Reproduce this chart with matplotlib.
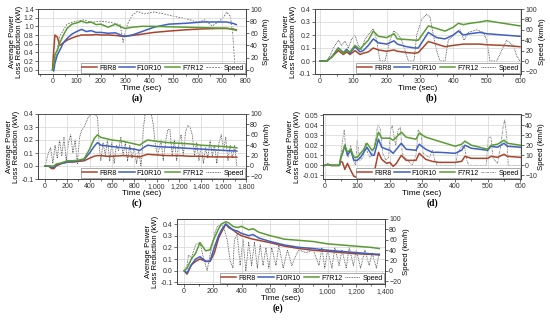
import matplotlib.pyplot as plt
from matplotlib.ticker import MultipleLocator, FuncFormatter, FormatStrFormatter

plt.rcParams['font.family'] = ['Liberation Sans', 'DejaVu Sans']

# ---- (a) ----
a_t = [0, 5, 10, 20, 30, 45, 60, 80, 100, 120, 140, 160, 180, 200, 230, 260, 290, 300,
       330, 370, 420, 480, 550, 620, 680, 720, 745, 760]
a_f8r8 = [0.0, 0.45, 0.80, 0.75, 0.56, 0.62, 0.68, 0.73, 0.77, 0.80, 0.80, 0.80, 0.81, 0.80,
          0.80, 0.79, 0.77, 0.77, 0.79, 0.82, 0.86, 0.89, 0.92, 0.94, 0.95, 0.95, 0.94, 0.92]
a_f10r10 = [0.0, -0.03, 0.15, 0.34, 0.45, 0.62, 0.72, 0.82, 0.88, 0.93, 0.88, 0.90, 0.86, 0.86,
            0.84, 0.85, 0.78, 0.77, 0.80, 0.88, 0.98, 1.05, 1.07, 1.10, 1.10, 1.10, 1.07, 1.04]
a_f7r12 = [0.0, 0.1, 0.35, 0.45, 0.62, 0.80, 0.95, 1.05, 1.08, 1.12, 1.08, 1.10, 1.04, 1.05,
           0.98, 1.05, 0.97, 0.95, 0.98, 1.00, 1.00, 0.99, 0.98, 0.97, 0.96, 0.96, 0.93, 0.91]
a_ts = [0, 10, 20, 30, 45, 60, 80, 100, 130, 160, 200, 240, 280, 292, 300, 310, 330, 350,
        380, 420, 460, 500, 540, 570, 600, 630, 660, 690, 710, 720, 735, 745, 755, 760]
a_speed = [0, 15, 35, 55, 65, 75, 78, 80, 82, 78, 80, 78, 74, 45, 60, 75, 90, 96,
           92, 95, 92, 88, 85, 82, 78, 82, 72, 80, 88, 95, 88, 60, 0, 0]

# ---- (b) ----
b_t = [0, 20, 35, 55, 70, 80, 90, 105, 120, 130, 145, 160, 175, 200, 222, 232, 260, 285,
       295, 325, 350, 375, 400, 415, 430, 450, 480, 500, 550, 600]
b_f8r8 = [0, 0, 0.03, 0.08, 0.05, 0.07, 0.05, 0.08, 0.05, 0.06, 0.07, 0.10, 0.085, 0.075,
          0.085, 0.075, 0.065, 0.06, 0.065, 0.15, 0.13, 0.11, 0.12, 0.125, 0.13, 0.13, 0.13,
          0.125, 0.12, 0.11]
b_f10r10 = [0, 0, 0.03, 0.10, 0.065, 0.09, 0.06, 0.11, 0.07, 0.08, 0.12, 0.17, 0.14, 0.13,
            0.155, 0.13, 0.11, 0.10, 0.10, 0.22, 0.18, 0.17, 0.20, 0.23, 0.20, 0.21, 0.22,
            0.21, 0.20, 0.19]
b_f7r12 = [0, 0, 0.03, 0.10, 0.06, 0.08, 0.07, 0.12, 0.09, 0.12, 0.16, 0.23, 0.19, 0.18,
           0.21, 0.17, 0.165, 0.16, 0.16, 0.27, 0.25, 0.23, 0.26, 0.29, 0.28, 0.29, 0.30,
           0.31, 0.29, 0.27]
b_ts = [0, 20, 30, 40, 55, 65, 75, 85, 95, 105, 115, 125, 135, 150, 160, 170, 180, 195,
        210, 222, 235, 245, 255, 265, 282, 290, 305, 320, 330, 340, 350, 360, 375, 385,
        400, 420, 432, 445, 470, 490, 500, 510, 530, 545, 560, 580, 590, 600]
b_speed = [0, 0, 10, 25, 40, 30, 38, 25, 42, 50, 30, 22, 42, 55, 62, 40, 0, 0,
           40, 58, 50, 40, 20, 0, 0, 50, 80, 90, 85, 50, 20, 0, 0, 40,
           50, 60, 40, 55, 60, 55, 40, 0, 0, 20, 40, 30, 10, 0]

# ---- (c) ----
c_t = [0, 30, 60, 80, 100, 150, 200, 250, 300, 350, 400, 440, 470, 500, 550, 600, 700,
       800, 850, 880, 920, 1000, 1100, 1200, 1300, 1400, 1500, 1600, 1720]
c_f8r8 = [0, 0, -0.02, -0.02, 0.0, 0.02, 0.03, 0.03, 0.035, 0.04, 0.06, 0.075, 0.08, 0.08,
          0.075, 0.075, 0.08, 0.075, 0.07, 0.08, 0.09, 0.085, 0.08, 0.08, 0.075, 0.075,
          0.07, 0.07, 0.068]
c_f10r10 = [0, 0, -0.01, -0.01, 0.01, 0.02, 0.03, 0.035, 0.04, 0.05, 0.10, 0.15, 0.18, 0.16,
            0.155, 0.15, 0.14, 0.13, 0.12, 0.14, 0.16, 0.15, 0.145, 0.14, 0.135, 0.13,
            0.125, 0.12, 0.115]
c_f7r12 = [0, 0, 0.0, 0.0, 0.015, 0.025, 0.04, 0.04, 0.045, 0.055, 0.13, 0.21, 0.24, 0.22,
           0.21, 0.20, 0.19, 0.17, 0.16, 0.18, 0.20, 0.19, 0.18, 0.175, 0.17, 0.16, 0.155,
           0.15, 0.14]
c_ts = [0, 30, 50, 70, 90, 110, 130, 150, 170, 190, 210, 230, 250, 270, 290, 310, 330, 350,
        370, 390, 420, 450, 470, 480, 490, 500, 520, 540, 560, 580, 600, 620, 640, 660,
        680, 700, 720, 740, 760, 780, 800, 820, 840, 860, 870, 880, 900, 920, 950, 970,
        990, 1010, 1040, 1060, 1080, 1100, 1120, 1140, 1160, 1180, 1200, 1220, 1240, 1260,
        1280, 1300, 1320, 1340, 1360, 1380, 1400, 1420, 1440, 1460, 1480, 1500, 1520, 1540,
        1560, 1580, 1600, 1620, 1640, 1660, 1680, 1700, 1720]
c_speed = [0, 25, 35, 5, 40, 15, 50, 20, 55, 10, 45, 60, 25, 50, 5, 55, 70, 75,
           85, 95, 100, 98, 95, 60, 30, 10, 45, 20, 50, 10, 45, 5, 40, 30,
           55, 20, 45, 10, 40, 15, 35, 5, 30, 0, 20, 70, 103, 104, 103, 80,
           40, 20, 50, 10, 45, 70, 70, 20, 50, 10, 45, 60, 20, 65,
           78, 75, 60, 20, 45, 10, 40, 5, 35, 15, 50, 20, 40, 5,
           45, 60, 30, 55, 10, 40, 15, 40, 0]

# ---- (d) ----
d_t = [0, 10, 20, 45, 50, 55, 62, 70, 80, 90, 100, 110, 118, 130, 145, 152, 165, 175, 190,
       200, 210, 220, 235, 250, 280, 290, 310, 330, 350, 400, 420, 430, 450, 500, 510, 530,
       550, 560, 600]
d_f8r8 = [0, 0.001, 0, 0, 0.004, 0.003, -0.004, 0.002, -0.005, -0.011,
          -0.012, -0.011, -0.008, -0.004, -0.008, -0.007, 0.013, 0.006, 0.002, 0.003,
          -0.001, 0.002, 0.010, 0.005, 0.005, 0.012, 0.006, 0.004, 0.003, 0.003,
          0.004, 0.009, 0.007, 0.007, 0.009, 0.008, 0.011, 0.009, 0.008]
d_f10r10 = [0, 0.001, 0, 0, 0.008, 0.012, 0.020, 0.010, 0.015, 0.005,
            0.005, 0.008, 0.012, 0.018, 0.010, 0.010, 0.026, 0.018, 0.016, 0.015,
            0.012, 0.016, 0.022, 0.016, 0.015, 0.021, 0.016, 0.013, 0.013, 0.012,
            0.015, 0.020, 0.017, 0.015, 0.019, 0.018, 0.022, 0.019, 0.018]
d_f7r12 = [0, 0.001, 0, 0, 0.008, 0.013, 0.020, 0.013, 0.016, 0.008,
           0.008, 0.012, 0.015, 0.022, 0.015, 0.017, 0.033, 0.027, 0.027, 0.027,
           0.025, 0.028, 0.033, 0.028, 0.026, 0.032, 0.028, 0.026, 0.024, 0.019,
           0.021, 0.024, 0.020, 0.016, 0.020, 0.021, 0.025, 0.022, 0.020]
d_ts = [0, 5, 10, 15, 45, 50, 55, 60, 65, 72, 80, 88, 95, 100, 108, 118, 125, 132, 140, 150,
        158, 163, 170, 178, 188, 196, 202, 207, 212, 218, 225, 232, 238, 245, 255, 268, 280,
        287, 295, 302, 310, 322, 330, 338, 345, 400, 408, 418, 428, 436, 442, 495, 502, 510,
        516, 522, 530, 540, 547, 552, 558, 563, 600]
d_speed = [0, 0, 2, 0, 0, 12, 25, 35, 15, 8, 20, 5, 0, 25, 5, 8, 22, 12, 8, 15,
           30, 40, 37, 12, 5, 8, 35, 40, 30, 20, 35, 38, 12, 8, 5, 0, 10,
           35, 32, 12, 10, 8, 15, 5, 0, 0, 12, 18, 20, 5, 0, 0, 28, 28,
           8, 5, 2, 20, 38, 45, 30, 0, 0]

# ---- (e) ----
e_t = [0, 20, 50, 80, 110, 150, 180, 210, 240, 260, 290, 310, 340, 370, 400, 450, 480, 520,
       600, 700, 800, 900, 1000, 1100, 1200, 1300, 1360]
e_f8r8 = [0, -0.03, 0.05, 0.08, 0.10, 0.08, 0.08, 0.15, 0.28, 0.33, 0.40, 0.37, 0.35, 0.32,
          0.30, 0.28, 0.27, 0.26, 0.24, 0.21, 0.19, 0.175, 0.165, 0.155, 0.145, 0.14, 0.135]
e_f10r10 = [0, -0.02, 0.05, 0.10, 0.12, 0.08, 0.08, 0.20, 0.30, 0.35, 0.40, 0.38, 0.35, 0.34,
            0.32, 0.30, 0.31, 0.28, 0.25, 0.22, 0.20, 0.19, 0.175, 0.165, 0.155, 0.145, 0.14]
e_f7r12 = [0, 0.02, 0.10, 0.15, 0.24, 0.17, 0.18, 0.28, 0.36, 0.40, 0.42, 0.41, 0.38, 0.37,
           0.38, 0.35, 0.36, 0.33, 0.30, 0.27, 0.26, 0.25, 0.23, 0.22, 0.21, 0.20, 0.19]
e_ts = [0, 20, 30, 50, 80, 110, 130, 150, 160, 180, 210, 230, 260, 280, 300, 320, 340, 350,
        370, 390, 410, 430, 450, 470, 490, 510, 530, 550, 570, 590, 610, 640, 660, 690, 720,
        750, 780, 800, 850, 900, 940, 960, 980, 1000, 1030, 1050, 1080, 1100, 1130, 1150,
        1180, 1200, 1230, 1260, 1290, 1310, 1340, 1360]
e_speed = [0, 10, 30, 25, 50, 55, 30, 10, 0, 30, 70, 85, 90, 80, 60, 20, 5, 60,
           70, 10, 60, 0, 55, 10, 55, 5, 50, 10, 45, 5, 45, 10, 50, 5, 40,
           10, 30, 40, 35, 40, 10, 45, 5, 40, 5, 45, 10, 40, 5, 45,
           10, 40, 5, 40, 10, 35, 5, 35]

C8 = '#a9452a'
C10 = '#3f5fc2'
C7 = '#5a9c34'


def px(l, t, r, b):
    return [l / 550, 1 - b / 320, (r - l) / 550, (b - t) / 320]


def panel(fig, box, t, f8, f10, f7, ts, speed, xlim, xstep, ylim, ystep,
          slim, sstep, yfmt, comma, cap, cap_xy, sp_style):
    ax = fig.add_axes(px(*box))
    ax2 = ax.twinx()
    ax.set_zorder(ax2.get_zorder() + 1)
    ax.patch.set_visible(False)

    hs, = ax2.plot(ts, speed, lw=0.6, **sp_style)
    h8, = ax.plot(t, f8, color=C8, lw=1.1)
    h10, = ax.plot(t, f10, color=C10, lw=1.1)
    h7, = ax.plot(t, f7, color=C7, lw=1.1)

    ax.set_xlim(*xlim)
    ax.set_ylim(*ylim)
    ax2.set_ylim(*slim)
    ax.xaxis.set_major_locator(MultipleLocator(xstep))
    ax.xaxis.set_minor_locator(MultipleLocator(xstep / 2))
    ax.yaxis.set_major_locator(MultipleLocator(ystep))
    ax2.yaxis.set_major_locator(MultipleLocator(sstep))
    ax.yaxis.set_major_formatter(FormatStrFormatter(yfmt))
    if comma:
        ax.xaxis.set_major_formatter(FuncFormatter(lambda v, p: f'{v:,.0f}'))
    ax.grid(True, color='#d4d4d4', lw=0.5)

    for a in (ax, ax2):
        a.tick_params(labelsize=5, length=2, width=0.5, pad=1, colors='#333333')
        a.tick_params(which='minor', length=1.2, width=0.4)
        for s in a.spines.values():
            s.set_linewidth(0.6)
            s.set_color('#444444')

    ax.set_xlabel('Time (sec)', fontsize=6, labelpad=0)
    ax.set_ylabel('Average Power\nLoss Reduction (kW)', fontsize=5.6, labelpad=1,
                  linespacing=1.0)
    ax2.set_ylabel('Speed (km/h)', fontsize=5.6, labelpad=1)

    leg = ax.legend([h8, h10, h7, hs], ['F8R8', 'F10R10', 'F7R12', 'Speed'],
                    loc='lower right', ncol=4, fontsize=5, frameon=True,
                    fancybox=False, handlelength=2.2, handletextpad=0.3,
                    columnspacing=0.4, borderpad=0.2, borderaxespad=0.15,
                    framealpha=1)
    leg.get_frame().set_edgecolor('#888888')
    leg.get_frame().set_linewidth(0.5)

    fig.text(cap_xy[0] / 550, 1 - cap_xy[1] / 320, cap, ha='center', va='center',
             fontsize=7, fontweight='bold', family='Liberation Serif')


fig = plt.figure(figsize=(5.5, 3.2), dpi=100)

dotted = dict(color='#444444', ls=(0, (1, 1)))
dashed = dict(color='#666666', ls=(0, (2, 1.5)))
light = dict(color='#888888', ls=(0, (3, 1, 1, 1)))

panel(fig, (38, 9, 246, 74), a_t, a_f8r8, a_f10r10, a_f7r12, a_ts, a_speed,
      (-60, 800), 100, (-0.1, 1.4), 0.2, (-100 * 0.1 / 1.4, 100), 20, '%.1f', False,
      '(a)', (137, 98), dashed)
panel(fig, (315, 9, 521, 74), b_t, b_f8r8, b_f10r10, b_f7r12, b_ts, b_speed,
      (-15, 603), 100, (-0.1, 0.4), 0.1, (-25, 100), 20, '%.1f', False,
      '(b)', (432, 98), dotted)
panel(fig, (38, 114, 246, 179), c_t, c_f8r8, c_f10r10, c_f7r12, c_ts, c_speed,
      (-63, 1802), 200, (-0.1, 0.4), 0.1, (-25, 100), 20, '%.1f', True,
      '(c)', (137, 203), dotted)
panel(fig, (323, 114, 521, 179), d_t, d_f8r8, d_f10r10, d_f7r12, d_ts, d_speed,
      (-5, 602), 100, (-0.0135, 0.051), 0.01, (-13.5, 51), 10, '%.2f', False,
      '(d)', (432, 203), light)
panel(fig, (177, 219, 385, 284), e_t, e_f8r8, e_f10r10, e_f7r12, e_ts, e_speed,
      (-50, 1400), 200, (-0.114, 0.443), 0.1, (-25.7, 100), 20, '%.1f', True,
      '(e)', (278, 308), dotted)

fig.savefig('out.png', dpi=100)
